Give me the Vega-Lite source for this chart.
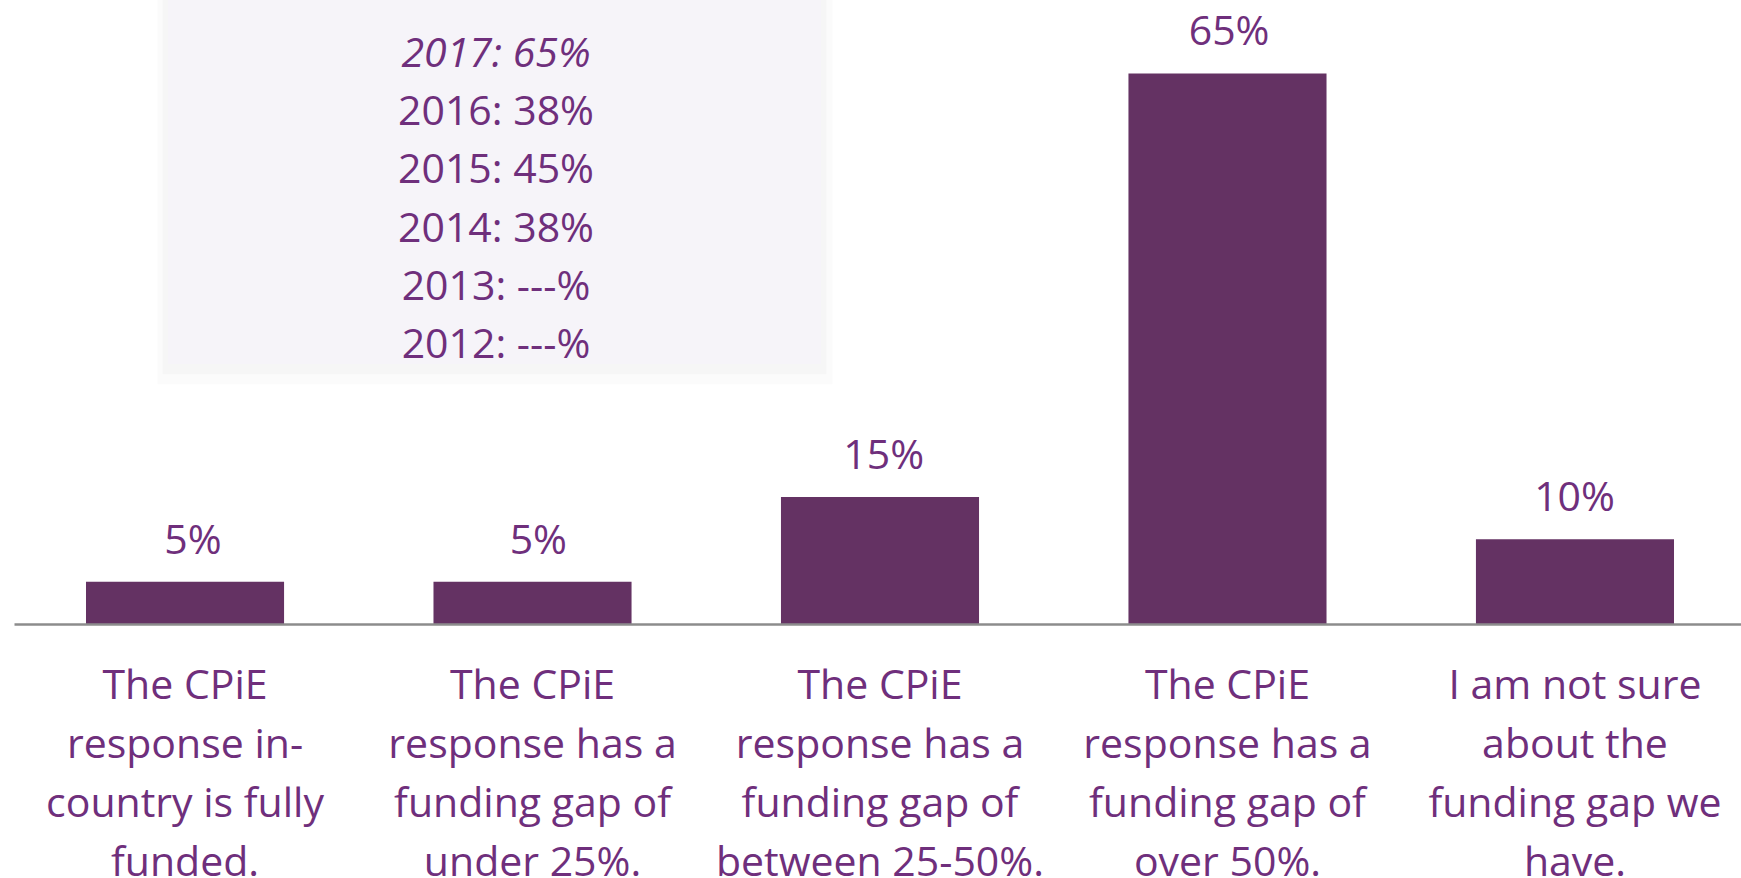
{
  "$schema": "https://vega.github.io/schema/vega-lite/v6.json",
  "width": 1727,
  "height": 624,
  "autosize": {"type": "none"},
  "padding": {"left": 14, "top": 0, "right": 0, "bottom": 254},
  "background": "white",
  "config": {"view": {"stroke": null}, "font": "Open Sans"},
  "datasets": {
    "bars": [
      {"response": "The CPiE response in-country is fully funded.", "share": 0.05},
      {"response": "The CPiE response has a funding gap of under 25%.", "share": 0.05},
      {"response": "The CPiE response has a funding gap of between 25-50%.", "share": 0.15},
      {"response": "The CPiE response has a funding gap of over 50%.", "share": 0.65},
      {"response": "I am not sure about the funding gap we have.", "share": 0.10}
    ],
    "history": [
      {"year": 2017, "label": "2017: 65%"},
      {"year": 2016, "label": "2016: 38%"},
      {"year": 2015, "label": "2015: 45%"},
      {"year": 2014, "label": "2014: 38%"},
      {"year": 2013, "label": "2013: ---%"},
      {"year": 2012, "label": "2012: ---%"}
    ]
  },
  "layer": [
    {
      "data": {"values": [{}]},
      "mark": {"type": "rect", "color": "#000000", "opacity": 0.015},
      "encoding": {
        "x": {"datum": 8.3, "type": "quantitative", "scale": {"domain": [0, 100], "nice": false}, "axis": null},
        "x2": {"datum": 47.4},
        "y": {"datum": 0.283, "type": "quantitative", "scale": {"domain": [0, 0.7367], "nice": false}, "axis": null},
        "y2": {"datum": 0.7367}
      }
    },
    {
      "data": {"values": [{}]},
      "mark": {"type": "rect", "color": "#000000", "opacity": 0.02},
      "encoding": {
        "x": {"datum": 8.6, "type": "quantitative", "scale": {"domain": [0, 100], "nice": false}, "axis": null},
        "x2": {"datum": 47.05},
        "y": {"datum": 0.295, "type": "quantitative", "scale": {"domain": [0, 0.7367], "nice": false}, "axis": null},
        "y2": {"datum": 0.7367}
      }
    },
    {
      "data": {"values": [{}]},
      "mark": {"type": "rect", "color": "#f6f4f9"},
      "encoding": {
        "x": {"datum": 8.92, "type": "quantitative", "scale": {"domain": [0, 100], "nice": false}, "axis": null},
        "x2": {"datum": 46.73},
        "y": {"datum": 0.307, "type": "quantitative", "scale": {"domain": [0, 0.7367], "nice": false}, "axis": null},
        "y2": {"datum": 0.7367}
      }
    },
    {
      "data": {"name": "history"},
      "transform": [{"filter": "datum.year == 2017"}],
      "mark": {"type": "text", "font": "Open Sans", "fontSize": 41, "fontStyle": "italic", "color": "#6f2f7c", "align": "center", "baseline": "middle"},
      "encoding": {
        "x": {"datum": 27.91, "type": "quantitative", "scale": {"domain": [0, 100], "nice": false}, "axis": null},
        "y": {"field": "year", "type": "quantitative", "scale": {"domain": [2007.23, 2017.94], "nice": false, "zero": false}, "axis": null},
        "text": {"field": "label"}
      }
    },
    {
      "data": {"name": "history"},
      "transform": [{"filter": "datum.year < 2017"}],
      "mark": {"type": "text", "font": "Open Sans", "fontSize": 41, "color": "#6f2f7c", "align": "center", "baseline": "middle"},
      "encoding": {
        "x": {"datum": 27.91, "type": "quantitative", "scale": {"domain": [0, 100], "nice": false}, "axis": null},
        "y": {"field": "year", "type": "quantitative", "scale": {"domain": [2007.23, 2017.94], "nice": false, "zero": false}, "axis": null},
        "text": {"field": "label"}
      }
    },
    {
      "data": {"name": "bars"},
      "mark": {"type": "bar", "color": "#643263"},
      "encoding": {
        "x": {
          "field": "response", "type": "nominal", "sort": null,
          "scale": {"paddingInner": 0.43, "paddingOuter": 0.2, "align": 0.518},
          "axis": {
            "title": null, "zindex": 1,
            "domain": true, "domainColor": "#8c8c8c", "domainWidth": 2.5,
            "ticks": false, "tickSize": 0, "grid": false,
            "labelFont": "Open Sans", "labelFontSize": 41, "labelColor": "#6f2f7c",
            "labelLineHeight": 59, "labelPadding": 42, "labelAngle": 0, "labelLimit": 0,
            "labelBaseline": "top", "labelOverlap": false, "labelBound": false, "labelFlush": false,
            "labelExpr": "datum.value == 'The CPiE response in-country is fully funded.' ? ['The CPiE', 'response in-', 'country is fully', 'funded.'] : datum.value == 'The CPiE response has a funding gap of under 25%.' ? ['The CPiE', 'response has a', 'funding gap of', 'under 25%.'] : datum.value == 'The CPiE response has a funding gap of between 25-50%.' ? ['The CPiE', 'response has a', 'funding gap of', 'between 25-50%.'] : datum.value == 'The CPiE response has a funding gap of over 50%.' ? ['The CPiE', 'response has a', 'funding gap of', 'over 50%.'] : ['I am not sure', 'about the', 'funding gap we', 'have.']"
          }
        },
        "y": {"field": "share", "type": "quantitative", "scale": {"domain": [0, 0.7367], "nice": false}, "axis": null}
      }
    },
    {
      "data": {"name": "bars"},
      "mark": {"type": "text", "font": "Open Sans", "fontSize": 41, "color": "#6f2f7c", "align": "center", "baseline": "alphabetic", "dy": -28},
      "encoding": {
        "x": {"field": "response", "type": "nominal", "sort": null, "scale": {"paddingInner": 0.43, "paddingOuter": 0.2, "align": 0.518}, "axis": null},
        "y": {"field": "share", "type": "quantitative", "scale": {"domain": [0, 0.7367], "nice": false}, "axis": null},
        "text": {"field": "share", "type": "quantitative", "format": ".0%"}
      }
    }
  ],
  "resolve": {"scale": {"x": "independent", "y": "independent"}}
}
